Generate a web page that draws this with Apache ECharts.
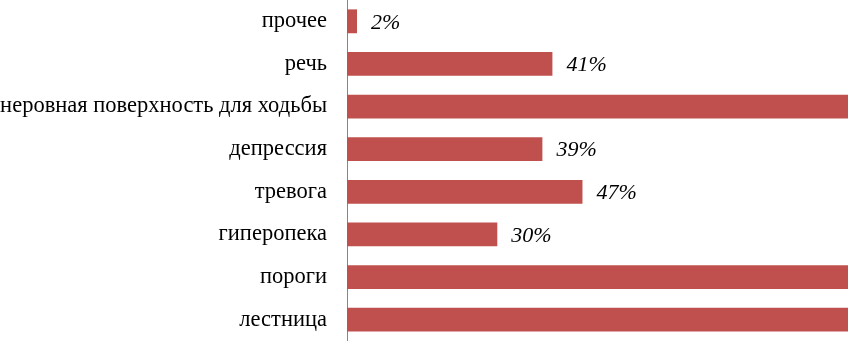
<!DOCTYPE html>
<html><head><meta charset="utf-8">
<script src="https://cdn.jsdelivr.net/npm/echarts@6/dist/echarts.min.js"></script>
<style>html,body{margin:0;padding:0;background:#fff}#c{width:848px;height:341px}</style>
</head><body><div id="c"></div>
<script>
const categories = ["лестница","пороги","гиперопека","тревога","депрессия","неровная поверхность для ходьбы","речь","прочее"];
const values = [100,100,30,47,39,100,41,2];
const chart = echarts.init(document.getElementById('c'), null, {renderer:'canvas'});
chart.setOption({
  animation:false,
  grid:{left:347,right:0,top:0,bottom:0,containLabel:false,outerBoundsMode:'none'},
  xAxis:{type:'value',min:0,max:100,show:false},
  yAxis:{type:'category',data:categories,
    axisLine:{show:true,lineStyle:{color:'#868686',width:1}},
    axisTick:{show:false},
    axisLabel:{color:'#000',fontFamily:'Liberation Serif',fontSize:22.5,margin:20,padding:[4,0,0,0]}},
  series:[{type:'bar',data:values,barCategoryGap:'44%',clip:true,
    itemStyle:{color:'#C0504D'},
    label:{show:true,position:'right',distance:14,offset:[0,1.5],formatter:'{c}%',color:'#000',
      fontFamily:'Liberation Serif',fontStyle:'italic',fontSize:22}}]
});
</script></body></html>
